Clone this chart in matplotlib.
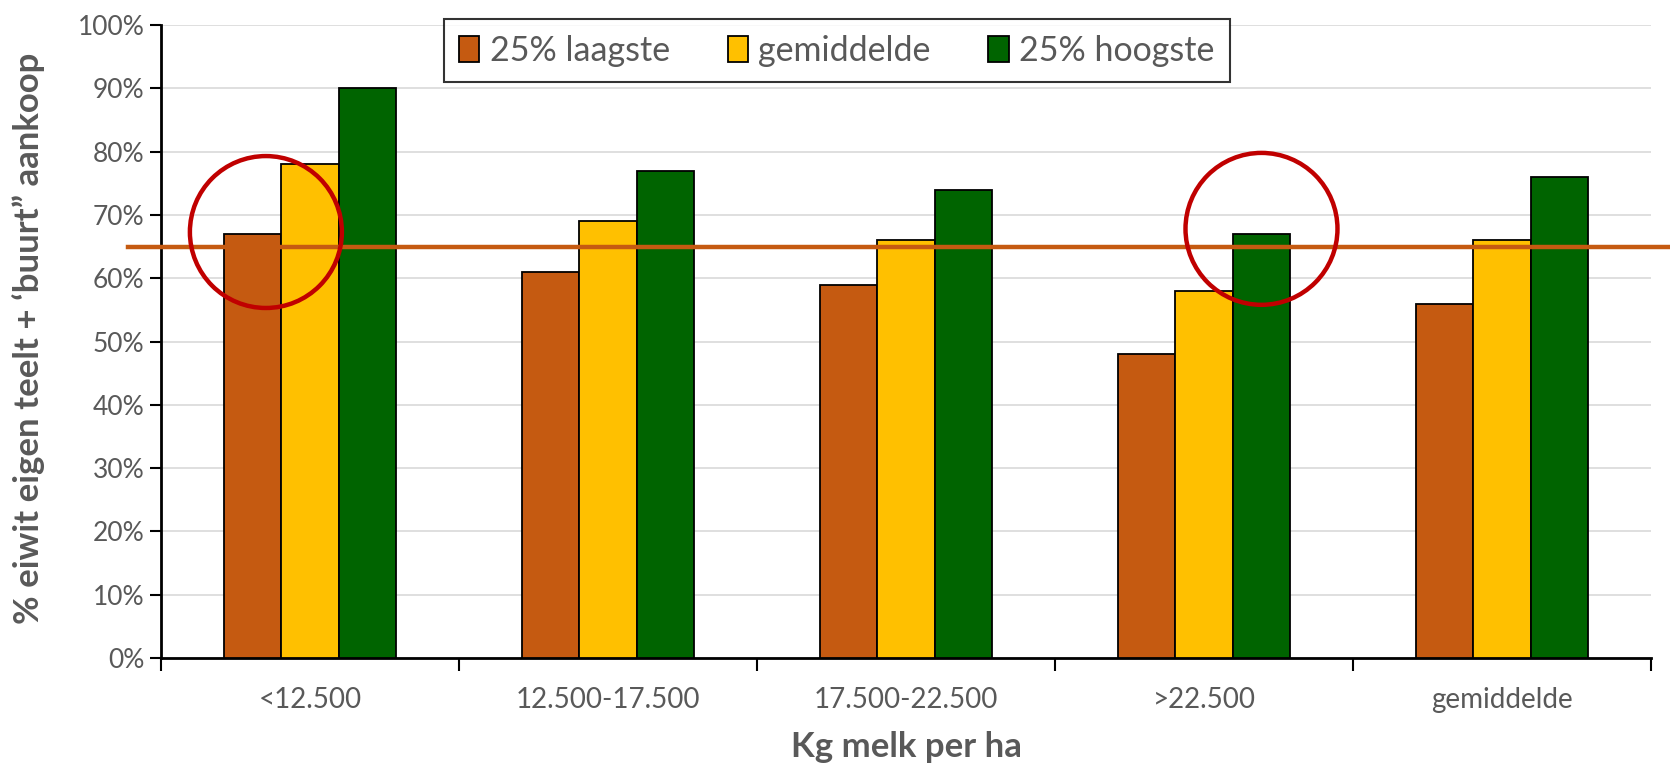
import matplotlib
matplotlib.use('Agg')
import matplotlib.pyplot as plt
import matplotlib.transforms as mtransforms
from matplotlib.patches import Ellipse
from matplotlib.ticker import FixedLocator, FuncFormatter
import numpy as np

categories = ['<12.500', '12.500-17.500', '17.500-22.500', '>22.500', 'gemiddelde']
series_names = ['25% laagste', 'gemiddelde', '25% hoogste']
laagste = [67, 61, 59, 48, 56]
gemiddelde = [78, 69, 66, 58, 66]
hoogste = [90, 77, 74, 67, 76]
reference_level = 65

colors = ['#c55a11', '#ffc000', '#006400']
text_grey = '#595959'

plt.rcParams['font.family'] = ['Lato', 'DejaVu Sans']

fig = plt.figure(figsize=(16.7, 7.68), dpi=100)
ax = fig.add_axes([0.0964, 0.1432, 0.8922, 0.8242])

x = np.arange(len(categories))
w = 0.193
for i, (vals, name) in enumerate(zip([laagste, gemiddelde, hoogste], series_names)):
    ax.bar(x + (i - 1) * w, vals, width=w, color=colors[i], edgecolor='black',
           linewidth=1.3, label=name, zorder=3)

ax.set_xlim(-0.5, len(categories) - 0.5)
ax.set_ylim(0, 100)
ax.set_yticks(np.arange(0, 101, 10))
ax.yaxis.set_major_formatter(FuncFormatter(lambda v, p: f'{v:.0f}%'))
ax.grid(axis='y', color='#d9d9d9', linewidth=1.2, zorder=0)

# category borders as ticks, labels at centres
ax.xaxis.set_major_locator(FixedLocator(np.arange(-0.5, len(categories), 1.0)))
ax.xaxis.set_minor_locator(FixedLocator(x))
ax.set_xticklabels([])
ax.set_xticklabels(categories, minor=True)
ax.tick_params(axis='x', which='major', length=9, width=1.5, color='black')
ax.tick_params(axis='x', which='minor', length=0, pad=21, labelsize=20, labelcolor=text_grey)
ax.tick_params(axis='y', length=8, width=1.5, color='black', labelsize=19, labelcolor=text_grey, pad=4)

for side in ['top', 'right']:
    ax.spines[side].set_visible(False)
ax.spines['left'].set_linewidth(2)
ax.spines['bottom'].set_linewidth(2)

ax.set_xlabel('Kg melk per ha', fontsize=25, fontweight='bold', color=text_grey)
ax.set_ylabel('% eiwit eigen teelt + \u2018buurt\u201d aankoop', fontsize=25,
              fontweight='bold', color=text_grey)
ax.xaxis.set_label_coords(0.5, -0.115)
ax.yaxis.set_label_coords(-0.078, 0.505)

# reference line across the whole figure width
trans = mtransforms.blended_transform_factory(fig.transFigure, ax.transData)
ax.plot([0.0766, 1.0], [reference_level, reference_level], transform=trans,
        color='#c55a11', linewidth=3.2, clip_on=False, zorder=5)

# highlight circles
for cx, cy in [(0 - w + 0.045, laagste[0] + 0.3), (3 + w, hoogste[3] + 0.8)]:
    ax.add_patch(Ellipse((cx, cy), 0.51, 24, fill=False, edgecolor='#c00000',
                         linewidth=3.2, zorder=6, clip_on=False))

leg = ax.legend(loc='center', bbox_to_anchor=(0.501, 0.934), bbox_transform=fig.transFigure,
                ncol=3, fontsize=24.5, frameon=True, fancybox=False, edgecolor='black',
                handlelength=0.6, handleheight=0.8, handletextpad=0.3, columnspacing=1.7,
                borderpad=0.45, labelcolor=text_grey)
leg.get_frame().set_linewidth(1.5)
leg.set_zorder(7)

fig.savefig('out.png', dpi=100, facecolor='white')
